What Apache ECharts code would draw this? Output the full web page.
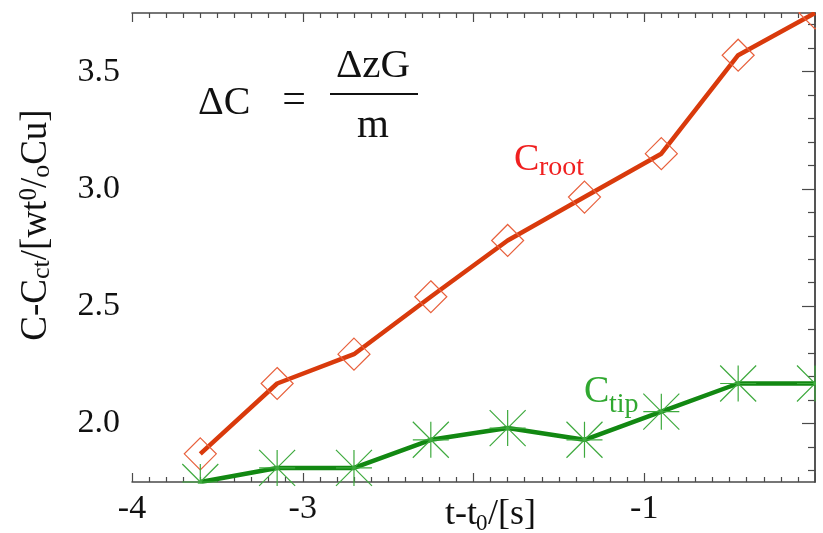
<!DOCTYPE html>
<html>
<head>
<meta charset="utf-8">
<script src="https://cdn.jsdelivr.net/npm/echarts@6/dist/echarts.min.js"></script>
<style>html,body{margin:0;padding:0;background:#fff;}#c{width:823px;height:533px;}</style>
</head>
<body>
<div id="c"></div>
<script>
const xValues = [-3.6, -3.15, -2.7, -2.25, -1.8, -1.35, -0.9, -0.45, 0];
const rootValues = [1.87, 2.17, 2.295, 2.54, 2.78, 2.965, 3.15, 3.57, 3.75];
const tipValues = [1.75, 1.81, 1.81, 1.93, 1.98, 1.93, 2.05, 2.17, 2.17];
const yMajorTicks = [2.0, 2.5, 3.0, 3.5];
const yMinorTicks = [1.8, 1.9, 2.1, 2.2, 2.3, 2.4, 2.6, 2.7, 2.8, 2.9, 3.1, 3.2, 3.3, 3.4, 3.6, 3.7];
const xTickLabels = {'-4': '-4', '-3': '-3', '-2': '', '-1': '-1', '0': ''};

const FONT = 'Liberation Serif';
const AX = '#4a4a4a';
const chart = echarts.init(document.getElementById('c'), null, {renderer: 'canvas'});

function yAxisDef(pos, ticks, len, showLine, showLabel) {
  return {
    type: 'value', position: pos, min: 1.75, max: 3.75,
    axisLine: {show: showLine, lineStyle: {color: AX, width: 1.5}},
    axisTick: {show: true, inside: true, length: len, customValues: ticks, lineStyle: {color: AX, width: 1.2}},
    axisLabel: {show: showLabel, customValues: ticks, margin: 12, fontFamily: FONT, fontSize: 34, color: '#111',
      formatter: v => v.toFixed(1)},
    splitLine: {show: false}
  };
}
function xAxisDef(pos, showLabel) {
  return {
    type: 'value', position: pos, min: -4, max: 0, interval: 1,
    axisLine: {show: true, lineStyle: {color: AX, width: 1.5}},
    axisTick: {show: true, inside: true, length: 9, lineStyle: {color: AX, width: 1.2}},
    minorTick: {show: true, splitNumber: 10, length: 5, lineStyle: {color: AX, width: 1.2}},
    axisLabel: {show: showLabel, margin: 10, fontFamily: FONT, fontSize: 34, color: '#111',
      showMinLabel: true, showMaxLabel: true,
      formatter: v => (xTickLabels[String(Math.round(v))] ?? '')},
    splitLine: {show: false}
  };
}

const star = 'path://M10 0 L10 20 M0 10 L20 10 M0 0 L20 20 M0 20 L20 0';

chart.setOption({
  animation: false,
  backgroundColor: '#fff',
  grid: {left: 132, top: 13, right: 8, bottom: 51, containLabel: false},
  xAxis: [xAxisDef('bottom', true), xAxisDef('top', false)],
  yAxis: [
    yAxisDef('left', yMajorTicks, 15, true, true),
    yAxisDef('left', yMinorTicks, 8, false, false),
    yAxisDef('right', yMajorTicks, 13, true, false),
    yAxisDef('right', yMinorTicks, 7, false, false)
  ],
  series: [
    {
      name: 'root', type: 'line', xAxisIndex: 0, yAxisIndex: 0,
      data: xValues.map((x, i) => [x, rootValues[i]]),
      lineStyle: {color: '#d93a0c', width: 4.5},
      symbol: 'diamond', symbolSize: 32,
      itemStyle: {color: 'rgba(0,0,0,0)', borderColor: '#e8603c', borderWidth: 1.2},
      z: 3
    },
    {
      name: 'tip', type: 'line', xAxisIndex: 0, yAxisIndex: 0,
      data: xValues.map((x, i) => [x, tipValues[i]]),
      lineStyle: {color: '#128812', width: 4.5},
      symbol: star, symbolSize: 36,
      itemStyle: {color: 'rgba(0,0,0,0)', borderColor: '#3eaa3e', borderWidth: 1.2},
      z: 3
    }
  ],
  graphic: [
    // white masks outside the plot frame so edge markers appear clipped
    {type: 'rect', z: 100, shape: {x: 0, y: 0, width: 823, height: 12}, style: {fill: '#fff'}},
    {type: 'rect', z: 100, shape: {x: 816, y: 0, width: 7, height: 533}, style: {fill: '#fff'}},
    {type: 'rect', z: 100, shape: {x: 160, y: 483.8, width: 80, height: 20}, style: {fill: '#fff'}},
    // y-axis title
    {type: 'text', x: 36, y: 225, rotation: Math.PI / 2, z: 10,
      style: {text: '{a|C-C}{s|ct}{a|/[wt}{p|0}{a|/}{s|o}{a|Cu]}', align: 'center', verticalAlign: 'middle',
        rich: {
          a: {fontFamily: FONT, fontSize: 37, fill: '#111', verticalAlign: 'middle'},
          s: {fontFamily: FONT, fontSize: 26, fill: '#111', padding: [12, 0, 0, 0]},
          p: {fontFamily: FONT, fontSize: 25, fill: '#111', padding: [0, 0, 14, 0]}
        }}},
    // x-axis title
    {type: 'text', x: 445, y: 515, z: 10,
      style: {text: 't-t', fontFamily: FONT, fontSize: 36, fill: '#111', align: 'left', verticalAlign: 'middle'}},
    {type: 'text', x: 476, y: 524, z: 10,
      style: {text: '0', fontFamily: FONT, fontSize: 23, fill: '#111', align: 'left', verticalAlign: 'middle'}},
    {type: 'text', x: 488, y: 515, z: 10,
      style: {text: '/[s]', fontFamily: FONT, fontSize: 36, fill: '#111', align: 'left', verticalAlign: 'middle'}},
    // formula
    {type: 'text', x: 198, y: 103, z: 10,
      style: {text: 'ΔC', fontFamily: FONT, fontSize: 40, fill: '#111', align: 'left', verticalAlign: 'middle'}},
    {type: 'text', x: 294, y: 101, z: 10,
      style: {text: '=', fontFamily: FONT, fontSize: 42, fill: '#111', align: 'center', verticalAlign: 'middle'}},
    {type: 'line', z: 10, shape: {x1: 330, y1: 94, x2: 418, y2: 94}, style: {stroke: '#111', lineWidth: 2}},
    {type: 'text', x: 373, y: 66, z: 10,
      style: {text: 'ΔzG', fontFamily: FONT, fontSize: 41, fill: '#111', align: 'center', verticalAlign: 'middle'}},
    {type: 'text', x: 373, y: 126, z: 10,
      style: {text: 'm', fontFamily: FONT, fontSize: 41, fill: '#111', align: 'center', verticalAlign: 'middle'}},
    // Croot
    {type: 'text', x: 514, y: 160, z: 10,
      style: {text: 'C', fontFamily: FONT, fontSize: 38, fill: '#f02020', align: 'left', verticalAlign: 'middle'}},
    {type: 'text', x: 539, y: 168, z: 10,
      style: {text: 'root', fontFamily: FONT, fontSize: 28, fill: '#f02020', align: 'left', verticalAlign: 'middle'}},
    // Ctip
    {type: 'text', x: 584, y: 392, z: 10,
      style: {text: 'C', fontFamily: FONT, fontSize: 38, fill: '#30a830', align: 'left', verticalAlign: 'middle'}},
    {type: 'text', x: 609, y: 405, z: 10,
      style: {text: 'tip', fontFamily: FONT, fontSize: 28, fill: '#30a830', align: 'left', verticalAlign: 'middle'}}
  ]
});
</script>
</body>
</html>
